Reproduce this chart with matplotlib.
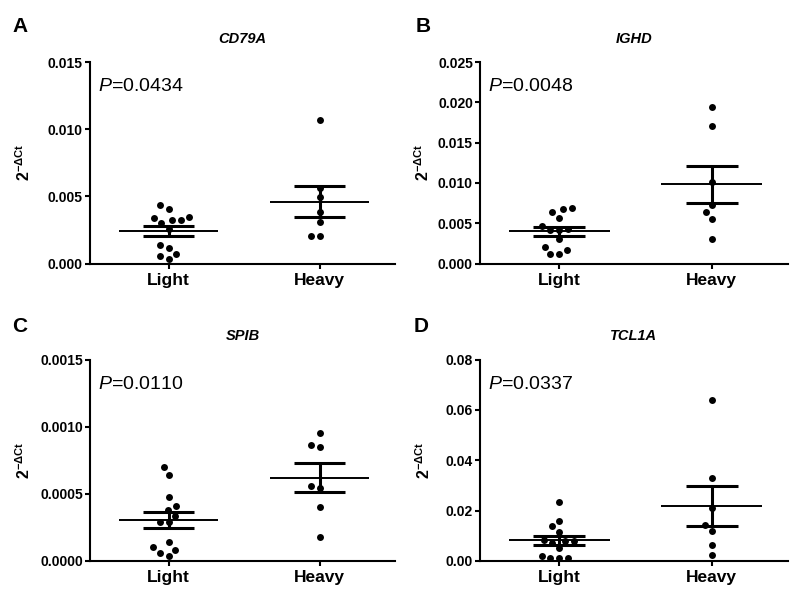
import numpy as np
import matplotlib
matplotlib.use('Agg')
import matplotlib.pyplot as plt

plt.rcParams['font.family'] = ['Liberation Sans', 'DejaVu Sans']
plt.rcParams['mathtext.fontset'] = 'custom'
plt.rcParams['mathtext.rm'] = 'Liberation Sans'
plt.rcParams['mathtext.it'] = 'Liberation Sans:italic'
plt.rcParams['mathtext.bf'] = 'Liberation Sans:bold'

# Data
groups = ['Light', 'Heavy']
genes = ['CD79A', 'IGHD', 'SPIB', 'TCL1A']
panel_letters = ['A', 'B', 'C', 'D']
p_values = ['0.0434', '0.0048', '0.0110', '0.0337']

cd79a_light = [0.00434, 0.00409, 0.00347, 0.00327, 0.00322, 0.00342, 0.00298,
               0.00260, 0.00141, 0.00119, 0.00069, 0.00037, 0.00054]
cd79a_heavy = [0.01066, 0.00565, 0.00496, 0.00384, 0.00310, 0.00203, 0.00203]

ighd_light = [0.00673, 0.00694, 0.00636, 0.00570, 0.00413, 0.00298, 0.00165,
              0.00206, 0.00112, 0.00112, 0.00460, 0.00430, 0.00410]
ighd_heavy = [0.01942, 0.01703, 0.01012, 0.00723, 0.00640, 0.00558, 0.00310]

spib_light = [0.000697, 0.000640, 0.000478, 0.000409, 0.000379, 0.000337, 0.000292,
              0.000292, 0.000144, 0.000082, 0.000037, 0.000057, 0.000102]
spib_heavy = [0.000954, 0.000863, 0.000850, 0.000540, 0.000560, 0.000400, 0.000176]

tcl1a_light = [0.0234, 0.0159, 0.0137, 0.0117, 0.0085, 0.0078, 0.0080, 0.0072,
               0.0051, 0.0012, 0.0010, 0.0012, 0.0020]
tcl1a_heavy = [0.0641, 0.0329, 0.0210, 0.0143, 0.0121, 0.0064, 0.0024]

light_data = [cd79a_light, ighd_light, spib_light, tcl1a_light]
heavy_data = [cd79a_heavy, ighd_heavy, spib_heavy, tcl1a_heavy]

y_max = [0.015, 0.025, 0.0015, 0.08]
y_step = [0.005, 0.005, 0.0005, 0.02]
y_fmt = ['%.3f', '%.3f', '%.4f', '%.2f']

W, H = 800, 599
fig = plt.figure(figsize=(W / 100, H / 100), dpi=100)

# axes boxes in pixels: left, top, width, height
boxes = [(90, 62, 305, 201.5), (480, 62, 308, 201.5),
         (90, 359.5, 305, 201.5), (480, 359.5, 308, 201.5)]
letter_pos = [(12, 27), (416, 27), (12, 327), (414, 327)]
ylabel_x = [-0.187, -0.156, -0.187, -0.153]


def swarm(ax, values, center, diam):
    vals = np.asarray(values)
    ys = ax.transData.transform(np.column_stack([np.full(len(vals), center), vals]))[:, 1]
    xs = np.zeros(len(vals))
    placed = []
    for i in np.argsort(vals):
        forbidden = []
        for j in placed:
            dy = ys[i] - ys[j]
            if abs(dy) < diam:
                dx = np.sqrt(diam ** 2 - dy ** 2)
                forbidden.append((xs[j] - dx, xs[j] + dx))
        cands = [0.0] + [a for a, b in forbidden] + [b for a, b in forbidden]
        cands.sort(key=abs)
        for c in cands:
            if all(not (a + 1e-6 < c < b - 1e-6) for a, b in forbidden):
                xs[i] = c
                break
        placed.append(i)
    px_per_unit = ax.transData.transform((1, 0))[0] - ax.transData.transform((0, 0))[0]
    return center + xs / px_per_unit


for k in range(4):
    l, t, w, h = boxes[k]
    ax = fig.add_axes([l / W, 1 - (t + h) / H, w / W, h / H])
    ax.set_xlim(-0.52, 1.5)
    ax.set_ylim(0, y_max[k])
    for s in ['top', 'right']:
        ax.spines[s].set_visible(False)
    for s in ['left', 'bottom']:
        ax.spines[s].set_linewidth(1.5)

    yt = np.arange(0, y_max[k] + y_step[k] / 2, y_step[k])
    ax.set_yticks(yt, labels=[y_fmt[k] % v for v in yt], fontweight='bold', fontsize=10)
    ax.set_xticks([0, 1], labels=groups, fontweight='bold', fontsize=12.5)
    ax.tick_params(axis='y', direction='out', length=3.6, width=1.5, pad=1.5)
    ax.tick_params(axis='x', direction='out', length=3.6, width=1.5, pad=3)

    for pos, vals in enumerate([light_data[k], heavy_data[k]]):
        vals = np.asarray(vals)
        xs = swarm(ax, vals, pos, 9)
        ax.scatter(xs, vals, s=25, color='black', zorder=3, clip_on=False, linewidths=0)
        m = vals.mean()
        sem = vals.std(ddof=1) / np.sqrt(len(vals))
        ax.hlines(m, pos - 0.33, pos + 0.33, color='black', lw=1.4, zorder=4)
        ax.hlines([m - sem, m + sem], pos - 0.17, pos + 0.17, color='black', lw=2.2, zorder=4)
        ax.vlines(pos, m - sem, m + sem, color='black', lw=2.2, zorder=4)

    ax.set_title(genes[k], fontsize=10.5, fontweight='bold', fontstyle='italic', pad=14)
    ax.set_ylabel(r'$\mathbf{2^{-\Delta Ct}}$', fontsize=11.5)
    ax.yaxis.set_label_coords(ylabel_x[k], 0.5)
    ax.text(0.025, 0.855, r'$\mathit{P}$=' + p_values[k], transform=ax.transAxes,
            fontsize=14, va='baseline', ha='left')

    lx, ly = letter_pos[k]
    fig.text(lx / W, 1 - ly / H, panel_letters[k], fontsize=15, fontweight='bold',
             ha='left', va='center')

fig.savefig('out.png', dpi=100)
